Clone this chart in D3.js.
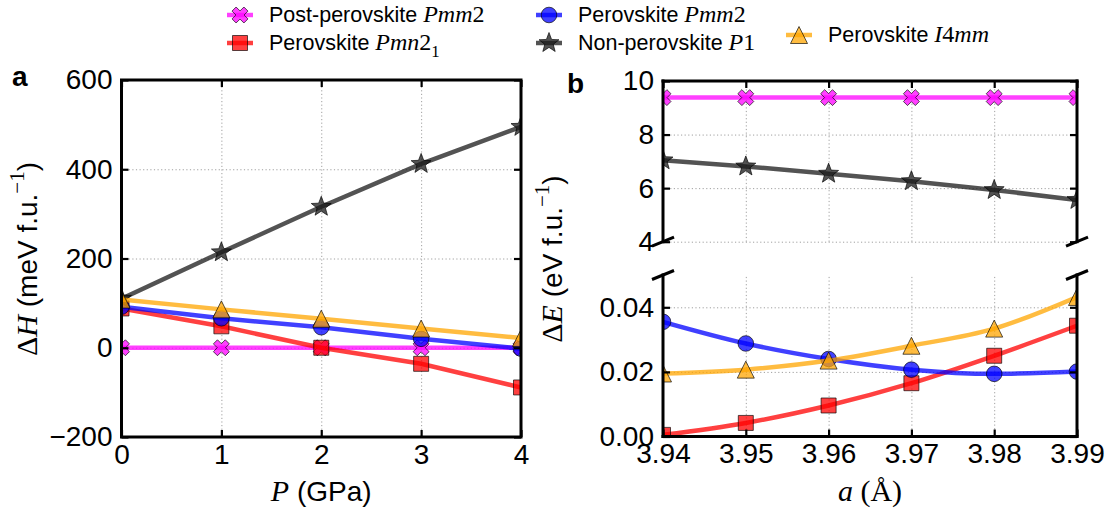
<!DOCTYPE html>
<html><head><meta charset="utf-8">
<script src="https://cdn.jsdelivr.net/npm/d3@7"></script>
<style>body{margin:0;background:#fff} svg{display:block}</style>
</head><body>
<svg id="chart" width="1112" height="515"></svg>
<script>
// ---------------- data ----------------
const pressureGPa   = [0, 1, 2, 3, 4];
const pressureTicks = [0, 1, 2, 3, 4];
const dHTicks       = [-200, 0, 200, 400, 600];
const dH_postPmm2   = [0, 0, 0, 0, 0];
const dH_pvPmn21    = [88, 48, 0, -36, -89];
const dH_pvPmm2     = [92, 66, 46, 20, -2];
const dH_nonP1      = [110, 214, 316, 412, 495];
const dH_pvI4mm     = [108, 86, 65, 43, 22];

const latticeA      = [3.94, 3.95, 3.96, 3.97, 3.98, 3.99];
const aTicks        = [3.94, 3.95, 3.96, 3.97, 3.98, 3.99];
const dEHighTicks   = [4, 6, 8, 10];
const dELowTicks    = [0, 0.02, 0.04];
const dE_postPmm2   = [9.38, 9.38, 9.38, 9.38, 9.38, 9.38];
const dE_nonP1      = [7.04, 6.81, 6.54, 6.26, 5.93, 5.56];
const dE_pvPmn21    = [0.0005, 0.0042, 0.0096, 0.0165, 0.0250, 0.0343];
const dE_pvPmm2     = [0.0355, 0.0288, 0.0240, 0.0207, 0.0194, 0.0201];
const dE_pvI4mm     = [0.0195, 0.0207, 0.0235, 0.0281, 0.0334, 0.0432];

const seriesNames = ["postPmm2", "pvPmn21", "pvPmm2", "nonP1", "pvI4mm"];
const seriesLabels = {
  postPmm2: [["Post-perovskite ", "sans"], ["Pmm", "mi"], ["2", "mu"]],
  pvPmn21:  [["Perovskite ", "sans"], ["Pmn", "mi"], ["2", "mu"], ["1", "sub"]],
  pvPmm2:   [["Perovskite ", "sans"], ["Pmm", "mi"], ["2", "mu"]],
  nonP1:    [["Non-perovskite ", "sans"], ["P", "mi"], ["1", "mu"]],
  pvI4mm:   [["Perovskite ", "sans"], ["I", "mi"], ["4", "mu"], ["mm", "mi"]]
};

// ---------------- styles ----------------
const SANS = "'Liberation Sans', Arial, Helvetica, sans-serif";
const SERIF = "'Liberation Serif', 'Times New Roman', serif";
const colors = {postPmm2: "#ff00ff", pvPmn21: "#ff0000", pvPmm2: "#0000ff", nonP1: "#1a1a1a", pvI4mm: "#ffa500"};

function starType(){ return {draw(ctx, r){
  const ri = r * 0.42;
  for (let i = 0; i < 10; i++) {
    const rr = i % 2 ? ri : r;
    const ang = -Math.PI/2 + i * Math.PI/5;
    const x = rr*Math.cos(ang), y = rr*Math.sin(ang);
    if (i === 0) ctx.moveTo(x, y); else ctx.lineTo(x, y);
  }
  ctx.closePath();
}};}
const markerTypes = {
  postPmm2: {draw(ctx, r){
    const w = r*0.36, L = r*1.05;
    const pts = [[-w,-L],[w,-L],[w,-w],[L,-w],[L,w],[w,w],[w,L],[-w,L],[-w,w],[-L,w],[-L,-w],[-w,-w]];
    const c = Math.SQRT1_2;
    pts.forEach((p,i)=>{const x=(p[0]-p[1])*c, y=(p[0]+p[1])*c; if(i===0)ctx.moveTo(x,y); else ctx.lineTo(x,y);});
    ctx.closePath();
  }},
  pvPmn21: {draw(ctx, r){ ctx.rect(-r, -r, 2*r, 2*r); }},
  pvPmm2: {draw(ctx, r){ ctx.moveTo(r,0); ctx.arc(0,0,r,0,2*Math.PI); }},
  nonP1: starType(),
  pvI4mm: {draw(ctx, r){ ctx.moveTo(0,-r); ctx.lineTo(r,r); ctx.lineTo(-r,r); ctx.closePath(); }}
};
const markerSize = {postPmm2: 8, pvPmn21: 7.5, pvPmm2: 7.8, nonP1: 10.5, pvI4mm: 8.5};

const svg = d3.select("#chart");
const defs = svg.append("defs");

function richText(g, parts, baseSize, mathSize){
  let shift = 0;
  parts.forEach(([t, kind]) => {
    const ts = g.append("tspan").text(t);
    if (kind === "sans") { ts.attr("font-family", SANS).attr("font-size", baseSize); }
    else if (kind === "mi") { ts.attr("font-family", SERIF).attr("font-style", "italic").attr("font-size", mathSize); }
    else if (kind === "mu") { ts.attr("font-family", SERIF).attr("font-size", mathSize); }
    else if (kind === "sub" || kind === "sup") {
      const d = kind === "sub" ? mathSize*0.3 : -mathSize*0.42;
      ts.attr("font-family", SERIF).attr("font-size", mathSize*0.7).attr("dy", d - shift);
      shift = d; return;
    }
    if (shift !== 0) { ts.attr("dy", -shift); shift = 0; }
  });
}

function drawSeries(g, xs, ys, key, x, y, curve, clipId){
  const data = xs.map((v,i)=>[v, ys[i]]);
  const gg = g.append("g").attr("clip-path", `url(#${clipId})`);
  gg.append("path").datum(data)
    .attr("d", d3.line().x(d=>x(d[0])).y(d=>y(d[1])).curve(curve))
    .attr("fill", "none").attr("stroke", colors[key]).attr("stroke-opacity", 0.75)
    .attr("stroke-width", 4.5).attr("stroke-linecap", "butt");
  const sym = d3.symbol().type(markerTypes[key]).size(markerSize[key]);
  gg.selectAll("path.m").data(data).join("path").attr("class", "m")
    .attr("transform", d=>`translate(${x(d[0])},${y(d[1])})`)
    .attr("d", sym())
    .attr("fill", colors[key]).attr("fill-opacity", 0.75)
    .attr("stroke", "#000").attr("stroke-opacity", 0.65).attr("stroke-width", 1);
}

function clip(id, x0, y0, w, h){
  defs.append("clipPath").attr("id", id).append("rect").attr("x", x0).attr("y", y0).attr("width", w).attr("height", h);
}

function styleTickText(sel){
  sel.selectAll("text").attr("font-family", SANS).attr("font-size", 28).attr("fill", "#000");
  sel.selectAll(".tick line").attr("stroke", "#000").attr("stroke-width", 2.2);
  sel.select(".domain").remove();
}
function grid(g, axis){
  g.call(axis);
  g.select(".domain").remove();
  g.selectAll(".tick line").attr("stroke", "#a0a0a0").attr("stroke-width", 1).attr("stroke-dasharray", "1.2,2.4");
  g.selectAll("text").remove();
}

// ---------------- panel a ----------------
const xA = d3.scaleLinear().domain([0, 4]).range([121.5, 521]);
const yA = d3.scaleLinear().domain([-200, 600]).range([437, 80]);
const gA = svg.append("g");
const aW = xA.range()[1]-xA.range()[0], aH = yA.range()[0]-yA.range()[1];
clip("clipA", xA.range()[0], yA.range()[1], aW, aH);

grid(gA.append("g").attr("transform", `translate(0,${yA.range()[0]})`), d3.axisBottom(xA).tickValues(pressureTicks).tickSize(-aH));
grid(gA.append("g").attr("transform", `translate(${xA.range()[0]},0)`), d3.axisLeft(yA).tickValues(dHTicks).tickSize(-aW));

const dHSeries = {postPmm2: dH_postPmm2, pvPmn21: dH_pvPmn21, pvPmm2: dH_pvPmm2, nonP1: dH_nonP1, pvI4mm: dH_pvI4mm};
seriesNames.forEach(k => drawSeries(gA, pressureGPa, dHSeries[k], k, xA, yA, d3.curveLinear, "clipA"));

gA.append("g").attr("transform", `translate(0,${yA.range()[0]})`)
  .call(d3.axisBottom(xA).tickValues(pressureTicks).tickSize(-7).tickPadding(7).tickFormat(d3.format("d"))).call(styleTickText);
gA.append("g").attr("transform", `translate(0,${yA.range()[1]})`)
  .call(d3.axisTop(xA).tickValues(pressureTicks).tickSize(-7).tickFormat("")).call(styleTickText);
gA.append("g").attr("transform", `translate(${xA.range()[0]},0)`)
  .call(d3.axisLeft(yA).tickValues(dHTicks).tickSize(-7).tickPadding(9)).call(styleTickText);
gA.append("g").attr("transform", `translate(${xA.range()[1]},0)`)
  .call(d3.axisRight(yA).tickValues(dHTicks).tickSize(-7).tickFormat("")).call(styleTickText);
gA.append("rect").attr("x", xA.range()[0]).attr("y", yA.range()[1]).attr("width", aW).attr("height", aH)
  .attr("fill", "none").attr("stroke", "#000").attr("stroke-width", 3);

// ---------------- panel b ----------------
const xB = d3.scaleLinear().domain([3.94, 3.99]).range([663, 1077]);
const yBh = d3.scaleLinear().domain([4, 10]).range([241.7, 81]);
const yBl = d3.scaleLinear().domain([0, 0.05]).range([436.5, 275]);
const gB = svg.append("g");
const bW = xB.range()[1]-xB.range()[0];
const hH = yBh.range()[0]-yBh.range()[1], hL = yBl.range()[0]-yBl.range()[1];
clip("clipBh", xB.range()[0], yBh.range()[1], bW, hH);
clip("clipBl", xB.range()[0], yBl.range()[1], bW, hL);

grid(gB.append("g").attr("transform", `translate(0,${yBh.range()[0]})`), d3.axisBottom(xB).tickValues(aTicks).tickSize(-hH));
grid(gB.append("g").attr("transform", `translate(0,${yBl.range()[0]})`), d3.axisBottom(xB).tickValues(aTicks).tickSize(-hL));
grid(gB.append("g").attr("transform", `translate(${xB.range()[0]},0)`), d3.axisLeft(yBh).tickValues(dEHighTicks).tickSize(-bW));
grid(gB.append("g").attr("transform", `translate(${xB.range()[0]},0)`), d3.axisLeft(yBl).tickValues(dELowTicks).tickSize(-bW));

const dEHigh = {postPmm2: dE_postPmm2, nonP1: dE_nonP1};
const dELow = {pvPmn21: dE_pvPmn21, pvPmm2: dE_pvPmm2, pvI4mm: dE_pvI4mm};
seriesNames.forEach(k => {
  if (dEHigh[k]) drawSeries(gB, latticeA, dEHigh[k], k, xB, yBh, d3.curveLinear, "clipBh");
  if (dELow[k]) drawSeries(gB, latticeA, dELow[k], k, xB, yBl, d3.curveMonotoneX, "clipBl");
});

// upper axes
gB.append("g").attr("transform", `translate(0,${yBh.range()[1]})`)
  .call(d3.axisTop(xB).tickValues(aTicks).tickSize(-7).tickFormat("")).call(styleTickText);
gB.append("g").attr("transform", `translate(${xB.range()[0]},0)`)
  .call(d3.axisLeft(yBh).tickValues(dEHighTicks).tickSize(-7).tickPadding(9).tickFormat(d3.format("d"))).call(styleTickText);
gB.append("g").attr("transform", `translate(${xB.range()[1]},0)`)
  .call(d3.axisRight(yBh).tickValues(dEHighTicks).tickSize(-7).tickFormat("")).call(styleTickText);
// lower axes
gB.append("g").attr("transform", `translate(0,${yBl.range()[0]})`)
  .call(d3.axisBottom(xB).tickValues(aTicks).tickSize(-7).tickPadding(7).tickFormat(d3.format(".2f"))).call(styleTickText);
gB.append("g").attr("transform", `translate(${xB.range()[0]},0)`)
  .call(d3.axisLeft(yBl).tickValues(dELowTicks).tickSize(-7).tickPadding(9).tickFormat(d3.format(".2f"))).call(styleTickText);
gB.append("g").attr("transform", `translate(${xB.range()[1]},0)`)
  .call(d3.axisRight(yBl).tickValues(dELowTicks).tickSize(-7).tickFormat("")).call(styleTickText);

// spines
const [bx0, bx1] = xB.range();
const spine = (x1,y1,x2,y2) => gB.append("line").attr("x1",x1).attr("y1",y1).attr("x2",x2).attr("y2",y2)
  .attr("stroke","#000").attr("stroke-width",3).attr("stroke-linecap","square");
spine(bx0, yBh.range()[1], bx1, yBh.range()[1]);
spine(bx0, yBh.range()[1], bx0, yBh.range()[0]);
spine(bx1, yBh.range()[1], bx1, yBh.range()[0]);
spine(bx0, yBl.range()[0], bx1, yBl.range()[0]);
spine(bx0, yBl.range()[1], bx0, yBl.range()[0]);
spine(bx1, yBl.range()[1], bx1, yBl.range()[0]);
// break marks
[[bx0, yBh.range()[0]], [bx1, yBh.range()[0]], [bx0, yBl.range()[1]], [bx1, yBl.range()[1]]].forEach(([cx, cy]) => {
  gB.append("line").attr("x1", cx-11).attr("y1", cy+4.5).attr("x2", cx+11).attr("y2", cy-4.5)
    .attr("stroke", "#000").attr("stroke-width", 3);
});

// ---------------- labels ----------------
const ylabA = svg.append("text").attr("transform", "translate(37,259) rotate(-90)").attr("text-anchor", "middle").attr("fill", "#000");
richText(ylabA, [["Δ", "mu"], ["H", "mi"], [" (meV f.u.", "sans"], ["−1", "sup"], [")", "sans"]], 28, 30);
const ylabB = svg.append("text").attr("transform", "translate(562,259) rotate(-90)").attr("text-anchor", "middle").attr("fill", "#000");
richText(ylabB, [["Δ", "mu"], ["E", "mi"], [" (eV f.u.", "sans"], ["−1", "sup"], [")", "sans"]], 28, 30);

const xlabA = svg.append("text").attr("x", (xA.range()[0]+xA.range()[1])/2).attr("y", 501).attr("text-anchor", "middle").attr("fill", "#000");
richText(xlabA, [["P", "mi"], [" (GPa)", "sans"]], 28, 30);
const xlabB = svg.append("text").attr("x", (xB.range()[0]+xB.range()[1])/2).attr("y", 501).attr("text-anchor", "middle").attr("fill", "#000");
richText(xlabB, [["a", "mi"], [" (Å)", "mu"]], 28, 30);

svg.append("text").attr("x", 12).attr("y", 86).text("a").attr("font-family", SANS).attr("font-weight", "bold").attr("font-size", 28);
svg.append("text").attr("x", 567).attr("y", 93).text("b").attr("font-family", SANS).attr("font-weight", "bold").attr("font-size", 28);

// ---------------- legend ----------------
const legendPos = {postPmm2: [240, 15], pvPmn21: [240, 43], pvPmm2: [549, 15], nonP1: [549, 43], pvI4mm: [799, 35]};
seriesNames.forEach(k => {
  const [lx, ly] = legendPos[k];
  const lg = svg.append("g");
  lg.append("line").attr("x1", lx-13).attr("x2", lx+13).attr("y1", ly).attr("y2", ly)
    .attr("stroke", colors[k]).attr("stroke-opacity", 0.75).attr("stroke-width", 4.5);
  lg.append("path").attr("transform", `translate(${lx},${ly})`)
    .attr("d", d3.symbol().type(markerTypes[k]).size(markerSize[k])())
    .attr("fill", colors[k]).attr("fill-opacity", 0.75).attr("stroke", "#000").attr("stroke-opacity", 0.65);
  const t = lg.append("text").attr("x", lx+29).attr("y", ly+7).attr("fill", "#000");
  richText(t, seriesLabels[k], 21.5, 24);
});
</script>
</body></html>
